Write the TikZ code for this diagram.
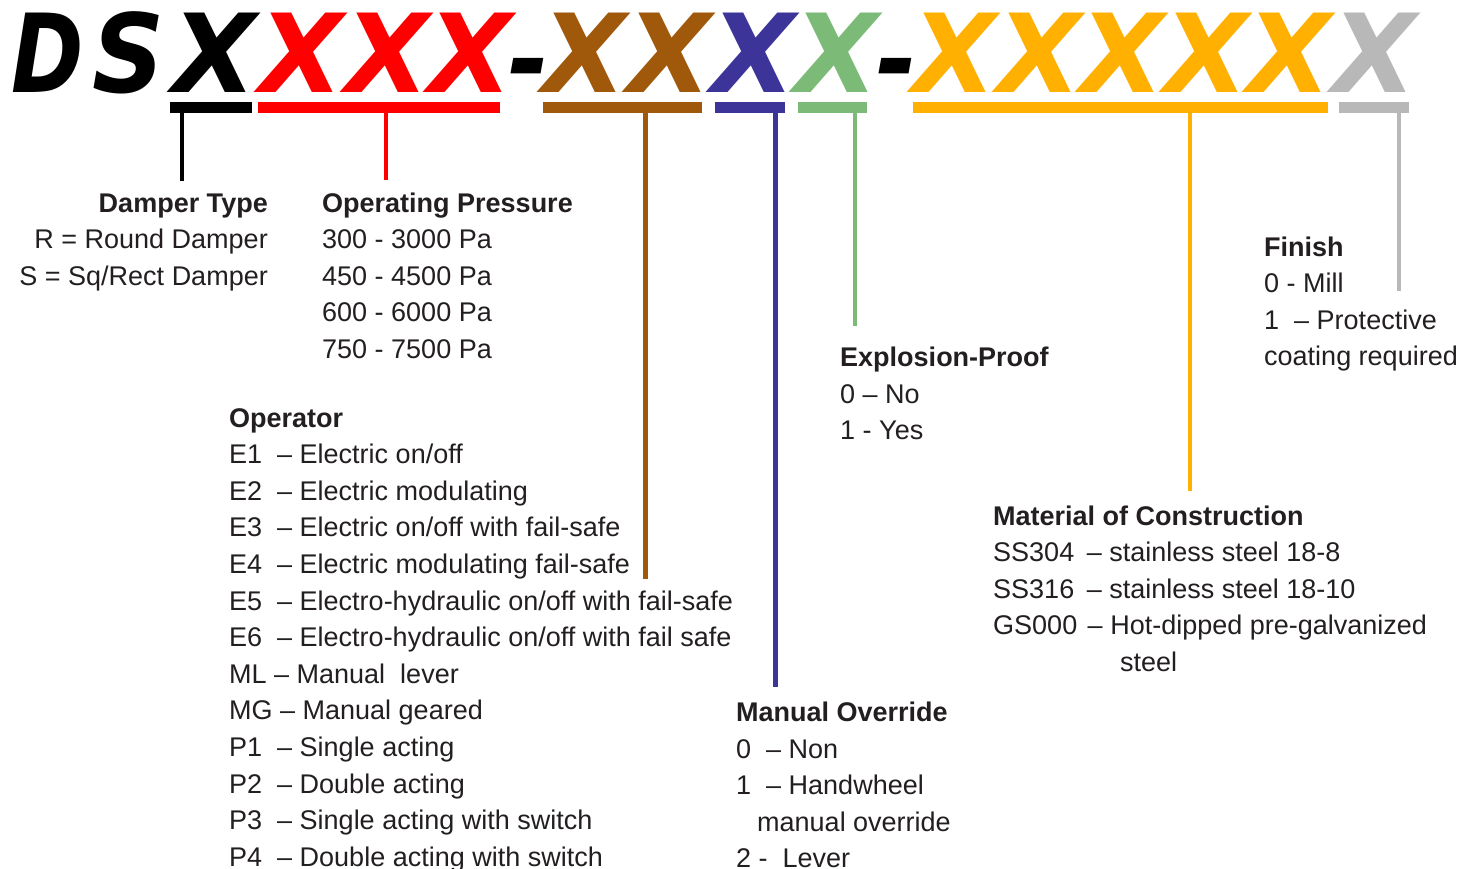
\documentclass[tikz,border=0pt]{standalone}
\usepackage{fontspec}
\setmainfont{Liberation Sans}
\newfontfamily\titlefont{DejaVu Sans}
\definecolor{txt}{RGB}{35,31,32}
\definecolor{cRed}{RGB}{255,0,0}
\definecolor{cBrown}{RGB}{160,88,10}
\definecolor{cBlue}{RGB}{60,52,152}
\definecolor{cGreen}{RGB}{124,186,120}
\definecolor{cOrange}{RGB}{255,176,0}
\definecolor{cGray}{RGB}{184,184,184}
\begin{document}
\begin{tikzpicture}[x=1pt,y=-1pt,
  letter/.style={inner sep=0, anchor=base, font=\titlefont\bfseries\itshape\fontsize{109}{109}\selectfont},
  bar/.style={line width=11pt},
  leader/.style={line width=4.5pt},
  block/.style={inner sep=0, anchor=base west, align=left, text=txt, font=\fontsize{27}{36.6}\selectfont},
  rblock/.style={block, anchor=base east, align=right},
]
\useasboundingbox[fill=white] (0,0) rectangle (1474,869);

% ---- title letters
\node[letter,text=black]   (tD)  at (48,93)   {\scalebox{0.8}[1]{D}};
\node[letter,text=black]   (tS)  at (129,93)  {\scalebox{0.92}[1]{S}};
\node[letter,text=black]   (tX1) at (215,93)  {X};
\node[letter,text=cRed]    (tX2) at (302,93)  {X};
\node[letter,text=cRed]    (tX3) at (388,93)  {X};
\node[letter,text=cRed]    (tX4) at (471,93)  {X};
\node[letter,text=black]   (tH1) at (529,98) {\scalebox{0.9}[1]{-}};
\node[letter,text=cBrown]  (tX5) at (585,93)  {X};
\node[letter,text=cBrown]  (tX6) at (670,93)  {X};
\node[letter,text=cBlue]   (tX7) at (754,93)  {X};
\node[letter,text=cGreen]  (tX8) at (837,93)  {X};
\node[letter,text=black]   (tH2) at (897,98) {\scalebox{0.9}[1]{-}};
\node[letter,text=cOrange] (tX9) at (955,93)  {X};
\node[letter,text=cOrange] (tX10) at (1040,93) {X};
\node[letter,text=cOrange] (tX11) at (1123,93) {X};
\node[letter,text=cOrange] (tX12) at (1207,93) {X};
\node[letter,text=cOrange] (tX13) at (1290,93) {X};
\node[letter,text=cGray]   (tX14) at (1374,93) {X};

% ---- underline bars
\draw[bar,black]   (170,107.5) -- (252,107.5);
\draw[bar,cRed]    (258,107.5) -- (500,107.5);
\draw[bar,cBrown]  (543,107.5) -- (702,107.5);
\draw[bar,cBlue]   (715,107.5) -- (785,107.5);
\draw[bar,cGreen]  (798,107.5) -- (867,107.5);
\draw[bar,cOrange] (913,107.5) -- (1328,107.5);
\draw[bar,cGray]   (1339,107.5) -- (1409,107.5);

% ---- leader coordinates
\coordinate (kA) at (182,110);  \coordinate (kB) at (182,181);
\coordinate (rA) at (386,110);  \coordinate (rB) at (386,180);
\coordinate (bA) at (645,110);  \coordinate (bB) at (645,579);
\coordinate (uA) at (775,110);  \coordinate (uB) at (775,687);
\coordinate (gA) at (855,110);  \coordinate (gB) at (855,326);
\coordinate (oA) at (1190,110); \coordinate (oB) at (1190,491);
\coordinate (yA) at (1399,110); \coordinate (yB) at (1399,291);

\draw[leader,black]   (kA) -- (kB);
\draw[leader,cRed,line width=3.5pt] (rA) -- (rB);
\draw[leader,cBrown,line width=5pt]  (bA) -- (bB);
\draw[leader,cBlue,line width=5pt]   (uA) -- (uB);
\draw[leader,cGreen]  (gA) -- (gB);
\draw[leader,cOrange] (oA) -- (oB);
\draw[leader,cGray]   (yA) -- (yB);

% ---- text blocks (anchored at the baseline of their last line)
\node[rblock] (damper) at (268,285.2) {\textbf{Damper Type}\\
R = Round Damper\\
S = Sq/Rect Damper};

\node[block] (press) at (322,358.4) {\textbf{Operating Pressure}\\
300 - 3000 Pa\\
450 - 4500 Pa\\
600 - 6000 Pa\\
750 - 7500 Pa};

\node[block] (oper) at (229,866.2) {\textbf{Operator}\\
E1 \ – Electric on/off\\
E2 \ – Electric modulating\\
E3 \ – Electric on/off with fail-safe\\
E4 \ – Electric modulating fail-safe\\
E5 \ – Electro-hydraulic on/off with fail-safe\\
E6 \ – Electro-hydraulic on/off with fail safe\\
ML – Manual \ lever\\
MG – Manual geared\\
P1 \ – Single acting\\
P2 \ – Double acting\\
P3 \ – Single acting with switch\\
P4 \ – Double acting with switch};

\node[block] (expl) at (840,439.7) {\textbf{Explosion-Proof}\\
0 – No\\
1 - Yes};

\node[block] (finish) at (1264,365.8) {\textbf{Finish}\\
0 - Mill\\
1 \ – Protective\\
coating required};

\node[block] (mat) at (993,671.4) {\textbf{Material of Construction}\\
SS304\hspace{5pt} – stainless steel 18-8\\
SS316\hspace{5pt} – stainless steel 18-10\\
GS000\hspace{3pt} – Hot-dipped pre-galvanized\\
\hspace*{127pt}steel};

\node[block] (manual) at (736,867.9) {\textbf{Manual Override}\\
0 \ – Non\\
1 \ – Handwheel\\
\hspace*{21pt}manual override\\
2 - \ Lever};
\end{tikzpicture}
\end{document}
